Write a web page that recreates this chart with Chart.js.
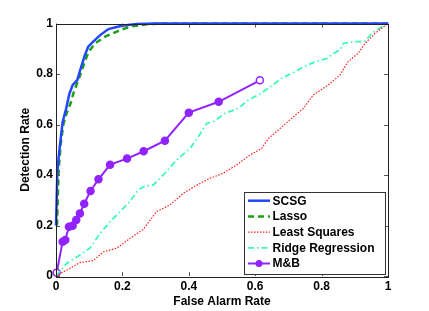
<!DOCTYPE html>
<html>
<head>
<meta charset="utf-8">
<script src="https://cdn.jsdelivr.net/npm/chart.js@4.4.1/dist/chart.umd.min.js"></script>
<style>
    html, body { margin: 0; padding: 0; background: #fff; }
    #wrap { width: 429px; height: 311px; }
</style>
</head>
<body>
<div id="wrap"><canvas id="roc"></canvas></div>
<script>
// ROC curves
const axisTicks = [0, 0.2, 0.4, 0.6, 0.8, 1];

const scsgX = [0, 0.004, 0.008, 0.012, 0.02, 0.03, 0.04, 0.05, 0.064, 0.074, 0.087, 0.097, 0.112, 0.133, 0.158, 0.198, 0.243, 0.3, 0.5, 1];
const scsgY = [0.2, 0.41, 0.47, 0.52, 0.61, 0.66, 0.72, 0.756, 0.776, 0.82, 0.875, 0.908, 0.928, 0.954, 0.978, 0.991, 0.998, 1, 1, 1];

const lassoX = [0.003, 0.008, 0.014, 0.022, 0.032, 0.044, 0.054, 0.067, 0.082, 0.097, 0.117, 0.148, 0.183, 0.223, 0.273, 0.32, 0.5, 1];
const lassoY = [0.2, 0.42, 0.52, 0.6, 0.645, 0.684, 0.73, 0.775, 0.83, 0.885, 0.921, 0.948, 0.968, 0.988, 0.997, 1, 1, 1];

const lsX = [0, 0.02, 0.042, 0.072, 0.112, 0.143, 0.183, 0.223, 0.263, 0.303, 0.343, 0.383, 0.424, 0.464, 0.504, 0.544, 0.584, 0.62, 0.64, 0.67, 0.71, 0.745, 0.775, 0.82, 0.855, 0.88, 0.91, 0.931, 0.961, 1];
const lsY = [0, 0.015, 0.03, 0.053, 0.061, 0.096, 0.11, 0.149, 0.185, 0.255, 0.281, 0.327, 0.36, 0.387, 0.407, 0.44, 0.479, 0.506, 0.545, 0.578, 0.625, 0.664, 0.717, 0.756, 0.796, 0.849, 0.882, 0.921, 0.961, 1];

const ridgeX = [0, 0.032, 0.072, 0.102, 0.133, 0.163, 0.193, 0.218, 0.248, 0.268, 0.293, 0.323, 0.363, 0.404, 0.429, 0.454, 0.474, 0.509, 0.549, 0.579, 0.609, 0.639, 0.68, 0.72, 0.745, 0.78, 0.815, 0.835, 0.855, 0.865, 0.9, 0.93, 0.951, 0.981, 1];
const ridgeY = [0, 0.05, 0.083, 0.11, 0.169, 0.215, 0.255, 0.288, 0.341, 0.356, 0.36, 0.4, 0.459, 0.506, 0.552, 0.605, 0.611, 0.644, 0.664, 0.697, 0.717, 0.743, 0.783, 0.809, 0.828, 0.848, 0.861, 0.881, 0.895, 0.921, 0.928, 0.928, 0.961, 0.987, 1];

const mbX = [0.002, 0.020, 0.028, 0.039, 0.050, 0.061, 0.072, 0.085, 0.104, 0.128, 0.163, 0.214, 0.264, 0.328, 0.400, 0.490, 0.614];
const mbY = [0.013, 0.136, 0.143, 0.195, 0.199, 0.222, 0.248, 0.286, 0.337, 0.383, 0.441, 0.465, 0.494, 0.536, 0.647, 0.690, 0.775];

const FONT = 'Liberation Sans, Arial, Helvetica, sans-serif';

function pairs(xs, ys) {
    return xs.map((x, i) => ({ x: x, y: ys[i] }));
}

// matlab style box with inward ticks on all four sides
const boxFrame = {
    id: 'boxFrame',
    afterDatasetsDraw(chart) {
        const { ctx, chartArea: a, scales } = chart;
        ctx.save();
        ctx.strokeStyle = '#555';
        ctx.lineWidth = 1;
        ctx.beginPath();
        axisTicks.forEach(v => {
            const px = Math.round(scales.x.getPixelForValue(v)) + 0.5;
            const py = Math.round(scales.y.getPixelForValue(v)) + 0.5;
            ctx.moveTo(px, a.bottom); ctx.lineTo(px, a.bottom - 4);
            ctx.moveTo(px, a.top); ctx.lineTo(px, a.top + 4);
            ctx.moveTo(a.left, py); ctx.lineTo(a.left + 4, py);
            ctx.moveTo(a.right, py); ctx.lineTo(a.right - 4, py);
        });
        ctx.stroke();
        ctx.strokeStyle = '#222';
        ctx.strokeRect(Math.round(a.left) + 0.5, Math.round(a.top) + 0.5,
            Math.round(a.right - a.left), Math.round(a.bottom - a.top));
        ctx.restore();
    }
};

// legend box in the lower right corner of the plot
const boxLegend = {
    id: 'boxLegend',
    afterDraw(chart) {
        const ctx = chart.ctx;
        const x0 = 244.5, y0 = 192.5, w = 141, h = 82;
        ctx.save();
        ctx.fillStyle = '#fff';
        ctx.fillRect(x0, y0, w, h);
        ctx.strokeStyle = '#333';
        ctx.lineWidth = 1;
        ctx.strokeRect(x0, y0, w, h);
        ctx.font = 'bold 12px ' + FONT;
        ctx.textBaseline = 'middle';
        chart.data.datasets.forEach((ds, i) => {
            const y = 200.7 + i * 15.7;
            ctx.strokeStyle = ds.borderColor;
            ctx.lineWidth = ds.borderWidth;
            ctx.setLineDash(ds.borderDash || []);
            ctx.beginPath();
            ctx.moveTo(248, y);
            ctx.lineTo(270, y);
            ctx.stroke();
            ctx.setLineDash([]);
            if (ds.pointRadius > 0) {
                ctx.fillStyle = ds.borderColor;
                ctx.beginPath();
                ctx.arc(259, y, ds.pointRadius, 0, Math.PI * 2);
                ctx.fill();
            }
            ctx.fillStyle = '#000';
            ctx.fillText(ds.label, 272.5, y + 0.5);
        });
        ctx.restore();
    }
};

const tickText = v => String(Math.round(v * 10) / 10);

const mbFill = mbX.map((x, i) => (i === 0 || i === mbX.length - 1) ? '#fff' : 'rgb(145,35,255)');

const ctx = document.getElementById('roc').getContext('2d');
const rocChart = new Chart(ctx, {
    type: 'scatter',
    data: {
        datasets: [{
            label: 'SCSG',
            data: pairs(scsgX, scsgY),
            showLine: true,
            borderColor: 'rgb(35,70,255)',
            borderWidth: 2.5,
            pointRadius: 0,
            clip: 4
        }, {
            label: 'Lasso',
            data: pairs(lassoX, lassoY),
            showLine: true,
            borderColor: 'rgb(30,160,20)',
            borderWidth: 2.5,
            borderDash: [6, 4],
            pointRadius: 0,
            clip: 4
        }, {
            label: 'Least Squares',
            data: pairs(lsX, lsY),
            showLine: true,
            borderColor: 'rgb(255,30,30)',
            borderWidth: 1.2,
            borderDash: [1.5, 1.5],
            pointRadius: 0,
            clip: 4
        }, {
            label: 'Ridge Regression',
            data: pairs(ridgeX, ridgeY),
            showLine: true,
            borderColor: 'rgb(60,250,180)',
            borderWidth: 1.8,
            borderDash: [6, 3, 1.5, 3],
            pointRadius: 0,
            clip: 4
        }, {
            label: 'M&B',
            data: pairs(mbX, mbY),
            showLine: true,
            borderColor: 'rgb(145,35,255)',
            backgroundColor: mbFill,
            pointBackgroundColor: mbFill,
            pointBorderColor: 'rgb(145,35,255)',
            pointBorderWidth: 1.5,
            borderWidth: 2,
            pointRadius: 3.5,
            clip: 6
        }]
    },
    options: {
        responsive: true,
        maintainAspectRatio: false,
        animation: false,
        layout: { padding: { left: 18, right: 41, top: 23.5, bottom: 2 } },
        plugins: {
            legend: { display: false },
            tooltip: { enabled: false }
        },
        scales: {
            x: {
                type: 'linear',
                min: 0,
                max: 1,
                afterBuildTicks: s => { s.ticks = axisTicks.map(v => ({ value: v })); },
                afterFit: s => { s.height = 33; },
                ticks: { color: '#000', font: { family: FONT, size: 12, weight: 'bold' }, padding: 3, maxRotation: 0, callback: tickText },
                grid: { drawOnChartArea: false, drawTicks: false },
                border: { display: false },
                title: { display: true, text: 'False Alarm Rate', color: '#000', font: { family: FONT, size: 12, weight: 'bold' }, padding: 0 }
            },
            y: {
                type: 'linear',
                min: 0,
                max: 1,
                afterBuildTicks: s => { s.ticks = axisTicks.map(v => ({ value: v })); },
                afterFit: s => { s.width = 38; },
                ticks: { color: '#000', font: { family: FONT, size: 12, weight: 'bold' }, padding: 3, callback: tickText },
                grid: { drawOnChartArea: false, drawTicks: false },
                border: { display: false },
                title: { display: true, text: 'Detection Rate', color: '#000', font: { family: FONT, size: 12, weight: 'bold' }, padding: 0 }
            }
        }
    },
    plugins: [boxFrame, boxLegend]
});
</script>
</body>
</html>
